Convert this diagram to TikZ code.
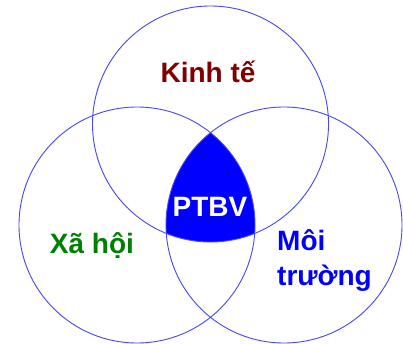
\documentclass[tikz,border=0pt]{standalone}
\usepackage{fontspec}
\setmainfont{Liberation Sans}
\begin{document}
\begin{tikzpicture}[x=1pt,y=-1pt,
  ring/.style={draw=ringblue,line width=0.9pt},
  lbl/.style={font=\fontsize{28}{35}\selectfont\bfseries,inner sep=0pt}]
\definecolor{ringblue}{RGB}{70,70,245}
\definecolor{econ}{RGB}{128,0,0}
\definecolor{soc}{RGB}{0,128,0}
\definecolor{env}{RGB}{0,0,255}
\useasboundingbox[fill=white] (0,0) rectangle (403,344);
\coordinate (ct) at (210.5,124);
\coordinate (cl) at (137,225);
\coordinate (cr) at (284,225);
\begin{scope}
  \clip (ct) circle (118);
  \clip (cl) circle (118);
  \fill[blue] (cr) circle (118);
\end{scope}
\draw[ring] (ct) circle (118);
\draw[ring] (cl) circle (118);
\draw[ring] (cr) circle (118);
\node[lbl,text=econ,anchor=base] (kt) at (208,83) {Kinh tế};
\node[lbl,text=soc,anchor=base] (xh) at (92,253) {Xã hội};
\node[lbl,text=env,anchor=base west] (mt1) at (277,250) {Môi};
\node[lbl,text=env,anchor=base west] (mt2) at (277,285) {trường};
\node[lbl,text=white,anchor=base] (pt) at (210,216) {PTBV};
\end{tikzpicture}
\end{document}
